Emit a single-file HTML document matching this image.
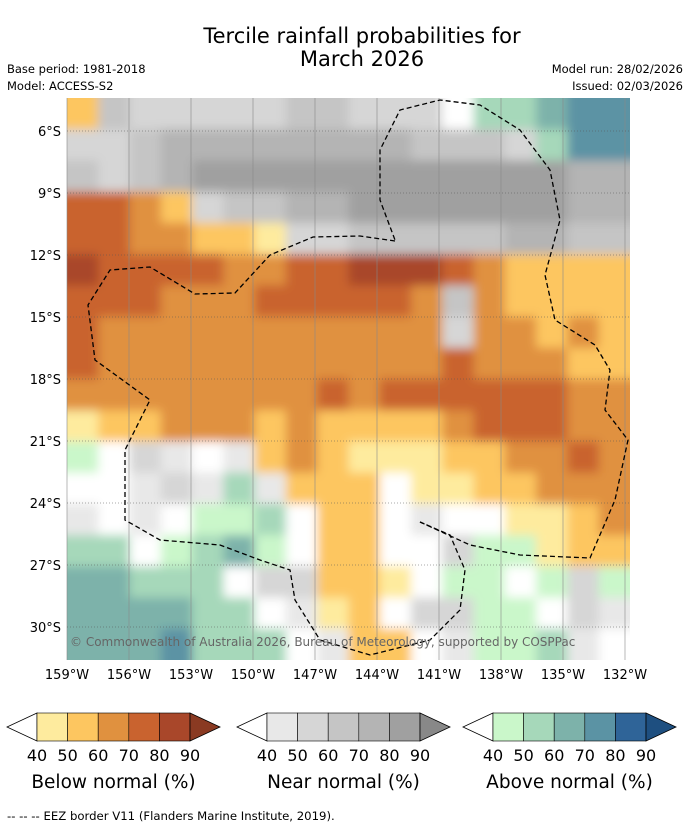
<!DOCTYPE html>
<html><head><meta charset="utf-8"><style>
body{margin:0;background:#fff;font-family:"DejaVu Sans","Liberation Sans",sans-serif;}
svg text{font-family:"DejaVu Sans","Liberation Sans",sans-serif;}
</style></head><body>
<svg id="chart" width="690" height="827" xmlns="http://www.w3.org/2000/svg">
<defs>
<clipPath id="mapclip"><rect x="67" y="98" width="563" height="562"/></clipPath>
<filter id="soft" x="-5%" y="-5%" width="110%" height="110%"><feGaussianBlur stdDeviation="5"/></filter>
</defs>
<text x="362" y="43" font-size="21" text-anchor="middle">Tercile rainfall probabilities for</text>
<text x="362" y="66" font-size="21" text-anchor="middle">March 2026</text>
<text x="7" y="73" font-size="11.5">Base period: 1981-2018</text>
<text x="7" y="90" font-size="11.5">Model: ACCESS-S2</text>
<text x="683" y="73" font-size="11.5" text-anchor="end">Model run: 28/02/2026</text>
<text x="683" y="90" font-size="11.5" text-anchor="end">Issued: 02/03/2026</text>
<g clip-path="url(#mapclip)"><rect x="67" y="98" width="563" height="562" fill="#fff"/><g id="map" filter="url(#soft)"></g></g>
<g id="grid"></g>
<path fill="none" stroke="#000" stroke-width="1.3" stroke-dasharray="5,3" d="M395,241 L360,236 L313,237 L270,255 L235,293 L195,294 L150,267 L110,270 L88,305 L95,360 L150,400 L125,450 L125,520 L160,540 L220,545 L260,560 L290,570 L295,600 L320,640 L370,655 L430,640 L460,610 L465,570 L450,535 L420,522"/>
<path fill="none" stroke="#000" stroke-width="1.3" stroke-dasharray="5,3" d="M420,522 L470,545 L520,555 L590,558 L615,500 L628,440 L605,410 L610,370 L595,345 L555,320 L545,275 L560,220 L550,170 L520,130 L480,105 L440,100 L400,110 L380,150 L380,200 L395,240"/>
<text x="70" y="646" font-size="12" fill="#666">© Commonwealth of Australia 2026, Bureau of Meteorology, supported by COSPPac</text>
<g id="axes"></g>
<g id="cbars"></g>
<text x="7" y="820" font-size="11.7">--  --  -- EEZ border V11 (Flanders Marine Institute, 2019).</text>
</svg>
<script>
const NS="http://www.w3.org/2000/svg";
const latTicks=[6,9,12,15,18,21,24,27,30];
const lonTicks=[159,156,153,150,147,144,141,138,135,132];
const colorLevels=[40,50,60,70,80,90];
const belowColors=["#feeb9e","#fdc660","#e0913f","#c9632f","#a9472a","#8a3a22"];
const nearColors=["#e8e8e8","#d6d6d6","#c5c5c5","#b4b4b4","#a0a0a0","#888888"];
const aboveColors=["#caf7ca","#a6d8ba","#7db2aa","#5b93a4","#2f6498","#1e4f80"];
const gridRows=[
"bihhhhhiihhh.qqrss",
"hhijjjjjjjjiiihqss",
"ihijkkkkkkkkkkkkjj",
"ddcbhiijjkkkkkkkjj",
"ddccbbahhiiiiijjii",
"eddddccddeeedcbbbb",
"dddcccdddddcicbbbb",
"dccccccccccchccbcb",
"dcccccccccccdcccbb",
"ccccccccdcddddddcc",
"abbcccbcbbbbcdddcc",
"p.hg.gbcbaaabbccdc",
"..ghgqgbbb.aabbccc",
"g.g.ppq.bb.g..aabc",
"qq.pqrp.bb..hppabb",
"rrqqq.hhbba.pp.php",
"rrrrqq.gab.hhpp.hg",
"rrrsqqq.gbb.gppqg."];
const codeColor={'.':'#ffffff'};
"abcde".split('').forEach((c,i)=>codeColor[c]=belowColors[i]);
"ghijk".split('').forEach((c,i)=>codeColor[c]=nearColors[i]);
"pqrst".split('').forEach((c,i)=>codeColor[c]=aboveColors[i]);
const X0=67,X1=630,Y0=98,Y1=660;
const lonX=l=>67+(159-l)*62/3;
const latY=l=>131+(l-6)*62/3;
const map=document.getElementById('map');
const nr=gridRows.length,nc=gridRows[0].length,cw=(X1-X0)/nc,ch=(Y1-Y0)/nr;
gridRows.forEach((row,r)=>row.split('').forEach((c,j)=>{
 const e=document.createElementNS(NS,'rect');
 let x=X0+j*cw,y=Y0+r*ch,w=cw+0.5,h=ch+0.5;
 if(j===0){x-=15;w+=15;} if(j===nc-1){w+=15;}
 if(r===0){y-=15;h+=15;} if(r===nr-1){h+=15;}
 e.setAttribute('x',x);e.setAttribute('y',y);
 e.setAttribute('width',w);e.setAttribute('height',h);
 e.setAttribute('fill',codeColor[c]);
 
 
 map.appendChild(e);
}));
const grid=document.getElementById('grid'),axes=document.getElementById('axes');
lonTicks.forEach(l=>{
 const x=lonX(l);
 const ln=document.createElementNS(NS,'line');
 ln.setAttribute('x1',x);ln.setAttribute('x2',x);ln.setAttribute('y1',Y0);ln.setAttribute('y2',Y1);
 ln.setAttribute('stroke','#888');ln.setAttribute('stroke-width','0.6');
 
 
 grid.appendChild(ln);
 const t=document.createElementNS(NS,'text');
 t.setAttribute('x',x);t.setAttribute('y',679);t.setAttribute('font-size','13');t.setAttribute('text-anchor','middle');
 t.textContent=l+'°W';
 
 
 axes.appendChild(t);
});
latTicks.forEach(l=>{
 const y=latY(l);
 const ln=document.createElementNS(NS,'line');
 ln.setAttribute('x1',X0);ln.setAttribute('x2',X1);ln.setAttribute('y1',y);ln.setAttribute('y2',y);
 ln.setAttribute('stroke','#555');ln.setAttribute('stroke-width','0.6');ln.setAttribute('stroke-dasharray','1,2');
 
 
 grid.appendChild(ln);
 const t=document.createElementNS(NS,'text');
 t.setAttribute('x',61);t.setAttribute('y',y+5);t.setAttribute('font-size','13');t.setAttribute('text-anchor','end');
 t.textContent=l+'°S';
 
 
 axes.appendChild(t);
});
const cb=document.getElementById('cbars');
const bars=[[37,belowColors,"Below normal (%)"],[267,nearColors,"Near normal (%)"],[493,aboveColors,"Above normal (%)"]];
bars.forEach(([x0,cols,title])=>{
 const w=30.6,yT=713,yB=741,ym=727;
 const tl=document.createElementNS(NS,'polygon');
 tl.setAttribute('points',`${x0},${yT} ${x0-30},${ym} ${x0},${yB}`);
 tl.setAttribute('fill','#fff');tl.setAttribute('stroke','#000');tl.setAttribute('stroke-width','0.8');
 
 
 cb.appendChild(tl);
 for(let i=0;i<5;i++){
  const r=document.createElementNS(NS,'rect');
  r.setAttribute('x',x0+i*w);r.setAttribute('y',yT);r.setAttribute('width',w);r.setAttribute('height',yB-yT);
  r.setAttribute('fill',cols[i]);r.setAttribute('stroke','#000');r.setAttribute('stroke-width','0.6');
  
  
  cb.appendChild(r);
 }
 const xe=x0+5*w;
 const tr=document.createElementNS(NS,'polygon');
 tr.setAttribute('points',`${xe},${yT} ${xe+30},${ym} ${xe},${yB}`);
 tr.setAttribute('fill',cols[5]);tr.setAttribute('stroke','#000');tr.setAttribute('stroke-width','0.8');
 
 
 cb.appendChild(tr);
 colorLevels.forEach((v,i)=>{
  const t=document.createElementNS(NS,'text');
  t.setAttribute('x',x0+i*w);t.setAttribute('y',761);t.setAttribute('font-size','16');t.setAttribute('text-anchor','middle');
  t.textContent=v;
  
  
  cb.appendChild(t);
 });
 const tt=document.createElementNS(NS,'text');
 tt.setAttribute('x',x0+2.5*w);tt.setAttribute('y',788);tt.setAttribute('font-size','18.5');tt.setAttribute('text-anchor','middle');
 tt.textContent=title;
 
 
 cb.appendChild(tt);
});
</script>
</body></html>
